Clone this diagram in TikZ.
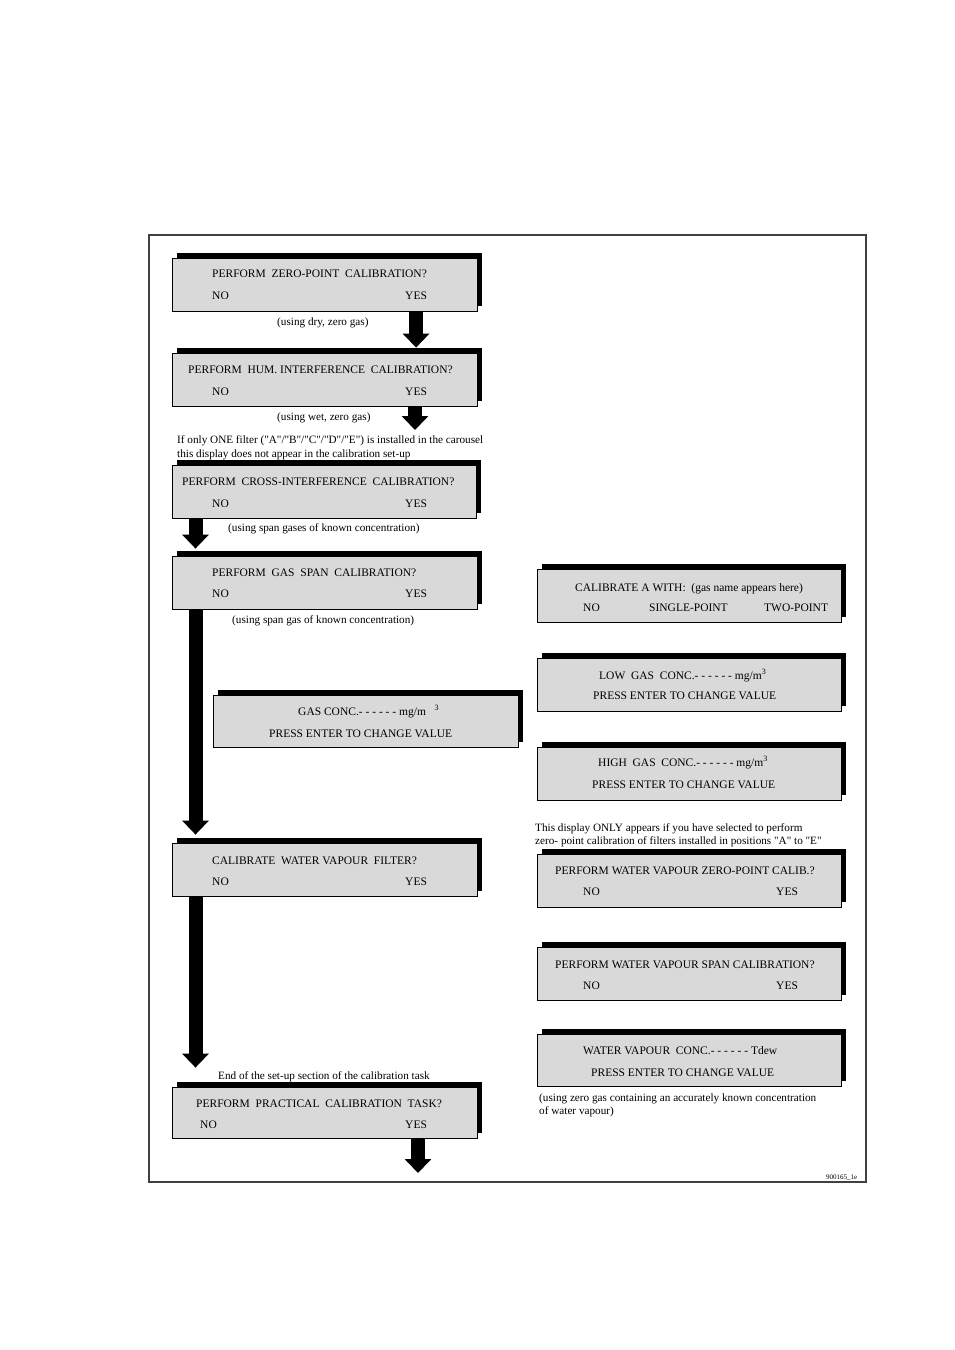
\documentclass[tikz,border=0pt]{standalone}
\usepackage{fontspec}
\setmainfont{Liberation Serif}[Ligatures=TeXOff]
\usetikzlibrary{arrows.meta,shadows}
\newcommand{\dsp}{\hspace{0.5em}}
\begin{document}
\begin{tikzpicture}
  [x=1pt,y=-1pt,
   every node/.style={font=\fontsize{11.5}{13}\selectfont},
   disp/.style={rectangle,draw,line width=.8pt,fill=black!15,minimum width=305pt,
     minimum height=53pt,inner sep=0pt,
     general shadow={shadow xshift=5pt,shadow yshift=5pt,fill=black}},
   txt/.style={anchor=west,inner sep=0pt,text height=8pt,text depth=0pt},
   note/.style={txt,font=\fontsize{11.2}{12}\selectfont},
   fat/.style={line width=14pt,-{Triangle[width=26pt,length=14pt]}}]
  \useasboundingbox (0,0) rectangle (955,1350);
  \draw[line width=1.2pt,black!75] (149,235) rectangle (866,1182);
  \coordinate (trunk) at (195.5,0);

  % left column
  \node[disp] (zero) at (324.5,284.5) {};
  \node[txt] (zeroq) at (212,273) {PERFORM\dsp ZERO-POINT\dsp CALIBRATION?};
  \node[txt] (zerono) at (212,295) {NO};
  \node[txt] (zeroyes) at (405,295) {YES};

  \node[disp] (hum) at (324.5,379.5) {};
  \node[txt] (humq) at (188,369) {PERFORM\dsp HUM. INTERFERENCE\dsp CALIBRATION?};
  \node[txt] (humno) at (212,391) {NO};
  \node[txt] (humyes) at (405,391) {YES};

  \node[disp,minimum width=304pt] (cross) at (324,491.5) {};
  \node[txt] (crossq) at (182,481) {PERFORM\dsp CROSS-INTERFERENCE\dsp CALIBRATION?};
  \node[txt] (crossno) at (212,503) {NO};
  \node[txt] (crossyes) at (405,503) {YES};

  \node[disp] (span) at (324.5,582.5) {};
  \node[txt] (spanq) at (212,572) {PERFORM\dsp GAS\dsp SPAN\dsp CALIBRATION?};
  \node[txt] (spanno) at (212,593) {NO};
  \node[txt] (spanyes) at (405,593) {YES};

  \node[disp,minimum height=52pt] (conc) at (365.5,721) {};
  \node[txt] (concq) at (298,711) {GAS CONC.- - - - - - mg/m\ \ \ \textsuperscript{3}};
  \node[txt] (concv) at (269,733) {PRESS ENTER TO CHANGE VALUE};

  \node[disp] (vap) at (324.5,869.5) {};
  \node[txt] (vapq) at (212,860) {CALIBRATE\dsp WATER VAPOUR\dsp FILTER?};
  \node[txt] (vapno) at (212,881) {NO};
  \node[txt] (vapyes) at (405,881) {YES};

  \node[disp,minimum height=51pt] (prac) at (324.5,1112.5) {};
  \node[txt] (pracq) at (196,1103) {PERFORM\dsp PRACTICAL\dsp CALIBRATION\dsp TASK?};
  \node[txt] (pracno) at (200,1124) {NO};
  \node[txt] (pracyes) at (405,1124) {YES};

  % right column
  \node[disp,minimum width=304pt] (cala) at (689,595.5) {};
  \node[txt] (calaq) at (575,587) {CALIBRATE A WITH:\dsp (gas name appears here)};
  \node[txt] (calano) at (583,607) {NO};
  \node[txt] (calasgl) at (649,607) {SINGLE-POINT};
  \node[txt] (calatwo) at (764,607) {TWO-POINT};

  \node[disp,minimum width=304pt] (low) at (689,684.5) {};
  \node[txt] (lowq) at (599,675) {LOW\dsp GAS\dsp CONC.- - - - - - mg/m\textsuperscript{3}};
  \node[txt] (lowv) at (593,695) {PRESS ENTER TO CHANGE VALUE};

  \node[disp,minimum width=304pt] (high) at (689,773.5) {};
  \node[txt] (highq) at (598,762) {HIGH\dsp GAS\dsp CONC.- - - - - - mg/m\textsuperscript{3}};
  \node[txt] (highv) at (592,784) {PRESS ENTER TO CHANGE VALUE};

  \node[disp,minimum width=304pt] (wvzero) at (689,880.5) {};
  \node[txt] (wvzeroq) at (555,870) {PERFORM WATER VAPOUR ZERO-POINT CALIB.?};
  \node[txt] (wvzerono) at (583,891) {NO};
  \node[txt] (wvzeroyes) at (776,891) {YES};

  \node[disp,minimum width=304pt] (wvspan) at (689,973.5) {};
  \node[txt] (wvspanq) at (555,964) {PERFORM WATER VAPOUR SPAN CALIBRATION?};
  \node[txt] (wvspanno) at (583,985) {NO};
  \node[txt] (wvspanyes) at (776,985) {YES};

  \node[disp,minimum width=304pt,minimum height=52pt] (wvconc) at (689,1060) {};
  \node[txt] (wvconcq) at (583,1050) {WATER VAPOUR\dsp CONC.- - - - - - Tdew};
  \node[txt] (wvconcv) at (591,1072) {PRESS ENTER TO CHANGE VALUE};

  % notes
  \node[note] (drynote) at (277,321) {(using dry, zero gas)};
  \node[note] (wetnote) at (277,416) {(using wet, zero gas)};
  \node[note] (onenote) at (177,439) {If only ONE filter ("A"/"B"/"C"/"D"/"E") is installed in the carousel};
  \node[note] (onenoteb) at (177,453) {this display does not appear in the calibration set-up};
  \node[note] (spansnote) at (228,527) {(using span gases of known concentration)};
  \node[note] (spannote) at (232,619) {(using span gas of known concentration)};
  \node[note] (onlynote) at (535,827) {This display ONLY appears if you have selected to perform};
  \node[note] (onlynoteb) at (535,840) {zero- point calibration of filters installed in positions "A" to "E"};
  \node[note] (endnote) at (218,1075) {End of the set-up section of the calibration task};
  \node[note] (wvnote) at (539,1097) {(using zero gas containing an accurately known concentration};
  \node[note] (wvnoteb) at (539,1110) {of water vapour)};
  \node[txt,font=\fontsize{7}{8}\selectfont] (figno) at (826,1175) {900165\_1e};

  % arrows
  \coordinate (humend) at (415,430);
  \coordinate (pracend) at (418,1173);
  \draw[fat,shorten >=5pt] (zero.south -| zeroyes) -- (hum.north -| zeroyes);
  \draw[fat] (hum.south -| humend) -- (humend);
  \draw[fat,shorten >=7pt] (cross.south -| trunk) -- (span.north -| trunk);
  \draw[fat,shorten >=8pt] (span.south -| trunk) -- (vap.north -| trunk);
  \draw[fat,shorten >=19pt] (vap.south -| trunk) -- (prac.north -| trunk);
  \draw[fat] (prac.south -| pracend) -- (pracend);
\end{tikzpicture}
\end{document}
